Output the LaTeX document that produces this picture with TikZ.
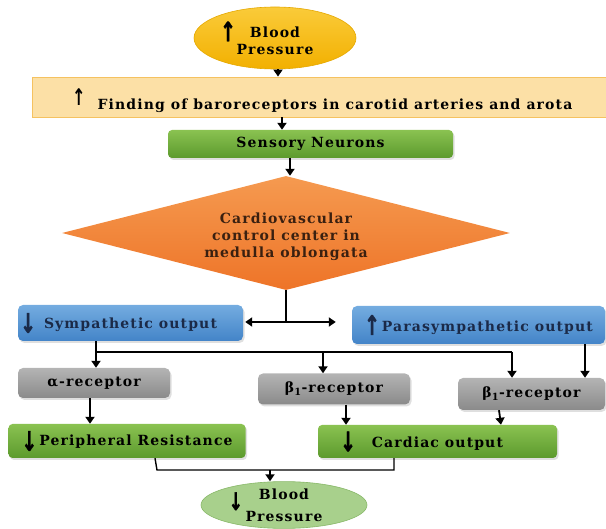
\documentclass[tikz,border=0pt]{standalone}
\usepackage{fontspec}
\setmainfont[LetterSpace=8]{DejaVu Serif}
\newfontfamily\arrfont[BoldFeatures={FakeBold=1.5}]{DejaVu Sans}
\usetikzlibrary{shapes.geometric,arrows.meta,shadows,calc}
\definecolor{yellowTop}{HTML}{FACB3A}
\definecolor{yellowBot}{HTML}{F2B000}
\definecolor{yellowLine}{HTML}{E5A800}
\definecolor{barFill}{HTML}{FCE0A6}
\definecolor{barLine}{HTML}{F5C260}
\definecolor{greenTop}{HTML}{8AC251}
\definecolor{greenBot}{HTML}{5C9A2D}
\definecolor{orangeTop}{HTML}{F59A50}
\definecolor{orangeBot}{HTML}{EE7428}
\definecolor{blueTop}{HTML}{74ACE0}
\definecolor{blueBot}{HTML}{4384C8}
\definecolor{grayTop}{HTML}{B4B4B4}
\definecolor{grayBot}{HTML}{8A8A8A}
\definecolor{lgreenFill}{HTML}{A8D08C}
\definecolor{lgreenLine}{HTML}{88B868}
\definecolor{diaText}{HTML}{3A2010}
\definecolor{navyText}{HTML}{1B2A48}
\newcommand{\bigarrow}[1]{\scalebox{0.7}[1]{\arrfont\bfseries\fontsize{27}{27}\selectfont #1}}
\newcommand{\upar}{\bigarrow{↑}}
\newcommand{\dnar}{\bigarrow{↓}}
\begin{document}
\begin{tikzpicture}[x=1pt,y=-1pt,
  txt/.style={font=\fontsize{14}{17}\selectfont\bfseries, text=black, align=center},
  shad/.style={drop shadow={opacity=0.25, shadow xshift=1.5pt, shadow yshift=-2pt}},
  greenbox/.style={txt, shad, rectangle, rounded corners=4pt, top color=greenTop, bottom color=greenBot, draw=none, inner sep=0pt},
  bluebox/.style={txt, shad, rectangle, rounded corners=5pt, top color=blueTop, bottom color=blueBot, draw=none, inner sep=0pt, text=navyText},
  graybox/.style={txt, shad, rectangle, rounded corners=5pt, top color=grayTop, bottom color=grayBot, draw=none, inner sep=0pt},
  arr/.style={line width=1.8pt, draw=black, -{Triangle[length=7pt,width=9pt]}},
  conn/.style={line width=1.6pt, draw=black},
]
\useasboundingbox (0,0) rectangle (606,529);

% nodes
\node[txt, ellipse, top color=yellowTop, bottom color=yellowBot, draw=yellowLine, line width=0.6pt,
      minimum width=162pt, minimum height=62pt, inner sep=0pt] (bp1) at (275,38)
      {\llap{\raisebox{-4pt}{\upar}\hspace{14pt}}Blood\\Pressure};
\node[txt, rectangle, fill=barFill, draw=barLine, line width=0.8pt,
      minimum width=576pt, minimum height=40pt, inner sep=0pt] (bar) at (320,97) {};
\node[txt, anchor=center] (bartext) at (335,101)
      {\llap{\raisebox{4pt}{\scalebox{0.85}{\itshape\upar}}\hspace{12pt}}Finding of baroreceptors in carotid arteries and arota};
\node[greenbox, minimum width=285pt, minimum height=28pt] (sens) at (310.5,144) {Sensory Neurons};
\node[txt, diamond, aspect=3.9, top color=orangeTop, bottom color=orangeBot, draw=none,
      minimum width=448pt, minimum height=114pt, inner sep=0pt, text=diaText] (dia) at (286,233)
      {\raisebox{-4pt}[\height][\depth]{\begin{tabular}{@{}c@{}}Cardiovascular\\control center in\\medulla oblongata\end{tabular}}};
\node[bluebox, minimum width=225pt, minimum height=36pt] (symp) at (130.5,323)
      {\llap{\raisebox{-4pt}{\dnar}\hspace{8pt}}Sympathetic output};
\node[bluebox, minimum width=253pt, minimum height=38pt] (para) at (478.5,325)
      {\raisebox{-3pt}{\upar}\hspace{2pt}Parasympathetic output};
\node[graybox, minimum width=152pt, minimum height=30pt] (alpha) at (94,383) {α-receptor};
\node[graybox, minimum width=152pt, minimum height=31pt] (betaM) at (334,389) {β\textsubscript{1}-receptor};
\node[graybox, minimum width=147pt, minimum height=32pt] (betaR) at (531.5,394) {β\textsubscript{1}-receptor};
\node[greenbox, minimum width=237pt, minimum height=34pt] (periph) at (127,441)
      {\raisebox{-5pt}{\dnar}\hspace{2pt}Peripheral Resistance};
\node[greenbox, minimum width=239pt, minimum height=33pt] (card) at (437.5,441.5)
      {\llap{\raisebox{-4pt}{\dnar}\hspace{16pt}}Cardiac output};
\node[txt, ellipse, fill=lgreenFill, draw=lgreenLine, line width=0.6pt,
      minimum width=166pt, minimum height=46pt, inner sep=0pt] (bp2) at (284,505)
      {\llap{\raisebox{-11pt}{\scalebox{0.9}{\dnar}}\hspace{16pt}}Blood\\Pressure};

% helper coordinates
\coordinate (jd) at (286,322);
\coordinate (hM) at (323,352);
\coordinate (hR) at (512,352);
\coordinate (pR) at (585,344);
\coordinate (hB) at (270,470);

% connectors
\draw[arr] (bp1.south -| 278,0) -- (bar.north -| 278,0);
\draw[arr] (bar.south -| 282,0) -- (sens.north -| 282,0);
\draw[arr] (sens.south -| 290,0) -- (dia.north -| 290,0);
\draw[conn] (dia.south) -- (jd);
\draw[line width=1.8pt, {Triangle[length=7pt,width=9pt]}-{Triangle[length=7pt,width=9pt]}]
      ([xshift=2pt]symp.east |- jd) -- ([xshift=-16pt]para.west |- jd);
\draw[arr] (symp.south -| 96,0) -- (alpha.north -| 96,0);
\draw[conn] (96,352) -- (hR);
\draw[arr] (hR) -- (betaR.north -| hR);
\draw[arr] ([yshift=-1pt]hM) -- (betaM.north -| hM);
\draw[arr] (para.south -| pR) -- (betaR.north -| pR);
\draw[arr] (alpha.south -| 90,0) -- (periph.north -| 90,0);
\draw[arr] (betaM.south -| 346,0) -- (card.north -| 346,0);
\draw[arr] (betaR.south -| 499,0) -- (card.north -| 501,0);
\draw[line width=1.4pt] (periph.south -| 155,0) -- (157,470) -| (card.south -| 394,0);
\draw[arr] (hB) -- (bp2.north -| hB);
\end{tikzpicture}
\end{document}
